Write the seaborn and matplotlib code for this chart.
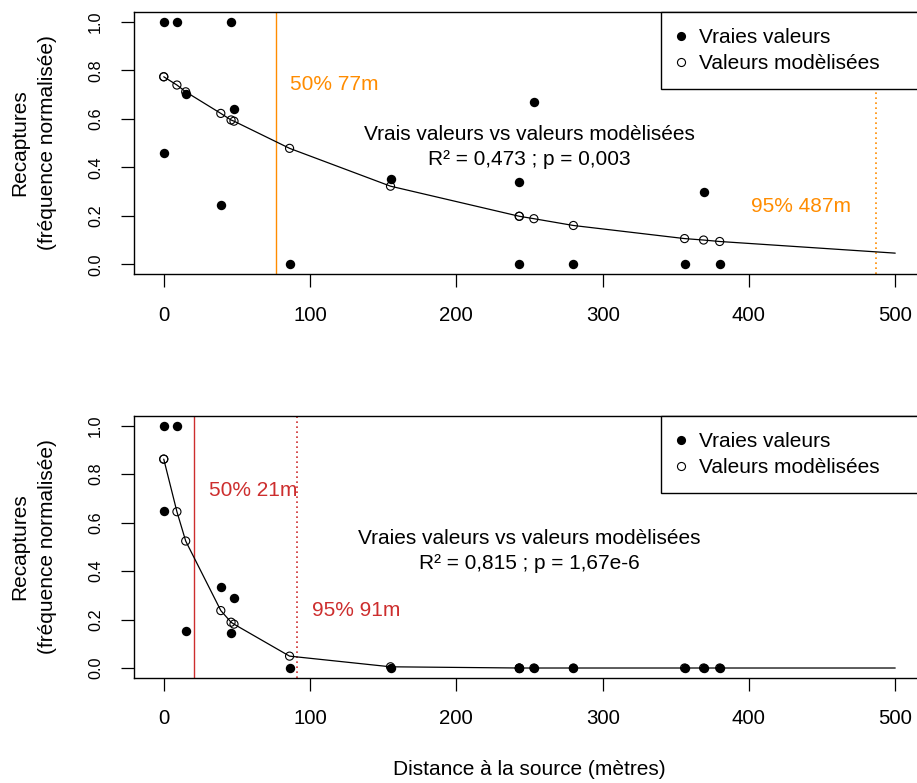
import matplotlib
matplotlib.use('Agg')
import matplotlib.pyplot as plt
from matplotlib.lines import Line2D
import pandas as pd
import seaborn as sns

# distances (m) of the trap points, same for both panels
DIST = [0, 0, 9, 15, 39, 46, 48, 86, 155, 243, 243, 253, 280, 356, 369, 380]

# top panel
TRUE_1 = [1.0, 0.46, 1.0, 0.70, 0.245, 1.0, 0.64, 0.0, 0.35, 0.34, 0.0,
          0.667, 0.0, 0.0, 0.30, 0.0]
MODEL_1 = [0.773, 0.773, 0.739, 0.711, 0.622, 0.595, 0.590, 0.478, 0.322,
           0.198, 0.198, 0.188, 0.160, 0.106, 0.100, 0.094]
# bottom panel
TRUE_2 = [1.0, 0.65, 1.0, 0.152, 0.333, 0.143, 0.288, 0.0, 0.0, 0.0, 0.0,
          0.0, 0.0, 0.0, 0.0, 0.0]
MODEL_2 = [0.862, 0.862, 0.645, 0.524, 0.237, 0.189, 0.181, 0.049, 0.005,
           0.0, 0.0, 0.0, 0.0, 0.0, 0.0, 0.0]

# end of the fitted curve
CURVE_END_X = 500
CURVE_END = [0.046, 0.0]

CUT50 = [77, 21]
CUT95 = [487, 91]
R2 = ['0,473', '0,815']
PVAL = ['0,003', '1,67e-6']
TITLES = ['Vrais valeurs vs valeurs modèlisées',
          'Vraies valeurs vs valeurs modèlisées']
COLOURS = ['#FF8C00', '#CD2E2E']

# label positions (data coords) for the 50% / 95% texts
LAB50_XY = [(116.7, 0.74), (60.8, 0.733)]
LAB95_XY = [(435.4, 0.24), (131.7, 0.237)]

FS = 15

sns.set_style('ticks')
plt.rcParams['font.family'] = ['Liberation Sans', 'DejaVu Sans']
for key in ['text.color', 'axes.labelcolor', 'xtick.color', 'ytick.color',
            'xtick.labelcolor', 'ytick.labelcolor']:
    plt.rcParams[key] = 'black'

fig = plt.figure(figsize=(9.17, 7.83), dpi=100)
ax_top = fig.add_axes([0.14667, 0.65006, 0.86150, 0.33461])
ax_bot = fig.add_axes([0.14667, 0.13448, 0.86150, 0.33423])

panels = [(ax_top, TRUE_1, MODEL_1), (ax_bot, TRUE_2, MODEL_2)]

for n, (ax, true_v, model_v) in enumerate(panels):
    df = pd.DataFrame({'dist': DIST, 'true': true_v, 'model': model_v})
    curve = pd.DataFrame({'dist': DIST + [CURVE_END_X],
                          'model': model_v + [CURVE_END[n]]})

    sns.lineplot(data=curve, x='dist', y='model', estimator=None,
                 color='black', lw=0.9, ax=ax, zorder=2)
    sns.scatterplot(data=df, x='dist', y='model', marker='o', s=34,
                    facecolor='none', edgecolor='black', linewidth=0.8,
                    ax=ax, zorder=3)
    sns.scatterplot(data=df, x='dist', y='true', marker='o', s=46,
                    color='black', linewidth=0, ax=ax, zorder=4)

    ax.axvline(CUT50[n], color=COLOURS[n], lw=1.0, zorder=1)
    ax.axvline(CUT95[n], color=COLOURS[n], lw=1.2, ls=(0, (1, 2)), zorder=1)
    ax.text(*LAB50_XY[n], f'50% {CUT50[n]}m', color=COLOURS[n],
            fontsize=FS, ha='center', va='center')
    ax.text(*LAB95_XY[n], f'95% {CUT95[n]}m', color=COLOURS[n],
            fontsize=FS, ha='center', va='center')
    ax.text(250, 0.483, f'{TITLES[n]}\nR² = {R2[n]} ; p = {PVAL[n]}',
            fontsize=FS, ha='center', va='center', linespacing=1.38,
            color='black')

    ax.set_xlim(-20, 520)
    ax.set_ylim(-0.04, 1.04)
    ax.set_xticks(range(0, 501, 100))
    ax.set_xticklabels([str(v) for v in range(0, 501, 100)], fontsize=14.7)
    yt = [0.0, 0.2, 0.4, 0.6, 0.8, 1.0]
    ax.set_yticks(yt)
    ax.set_yticklabels([f'{v:.1f}' for v in yt], rotation=90, va='center',
                       fontsize=11.7)
    ax.tick_params(direction='out', length=9.2, width=0.9, pad=13.5,
                   color='black', labelcolor='black')
    for sp in ax.spines.values():
        sp.set_visible(True)
        sp.set_color('black')
        sp.set_linewidth(1.0)

    ax.set_ylabel('Recaptures\n(fréquence normalisée)', fontsize=FS,
                  linespacing=1.58, color='black')
    ax.yaxis.set_label_coords(-0.098, 0.5)
    ax.set_xlabel('')

    handles = [Line2D([], [], marker='o', ls='', color='black',
                      markersize=6.6, markeredgewidth=0),
               Line2D([], [], marker='o', ls='', markerfacecolor='none',
                      markeredgecolor='black', markersize=5.8,
                      markeredgewidth=0.8)]
    leg = ax.legend(handles, ['Vraies valeurs', 'Valeurs modèlisées'],
                    loc='upper left', bbox_to_anchor=(0.666, 1.0, 0.334, 0),
                    mode='expand', borderaxespad=0, frameon=True,
                    fancybox=False, edgecolor='black', framealpha=1,
                    fontsize=FS, borderpad=0.78, labelspacing=0.32,
                    handlelength=0.39, handletextpad=0.69)
    leg.get_frame().set_linewidth(1.0)
    for t in leg.get_texts():
        t.set_color('black')

ax_bot.set_xlabel('Distance à la source (mètres)', fontsize=FS,
                  color='black')
ax_bot.xaxis.set_label_coords(0.5, -0.3145)

fig.savefig('out.png', dpi=100)
